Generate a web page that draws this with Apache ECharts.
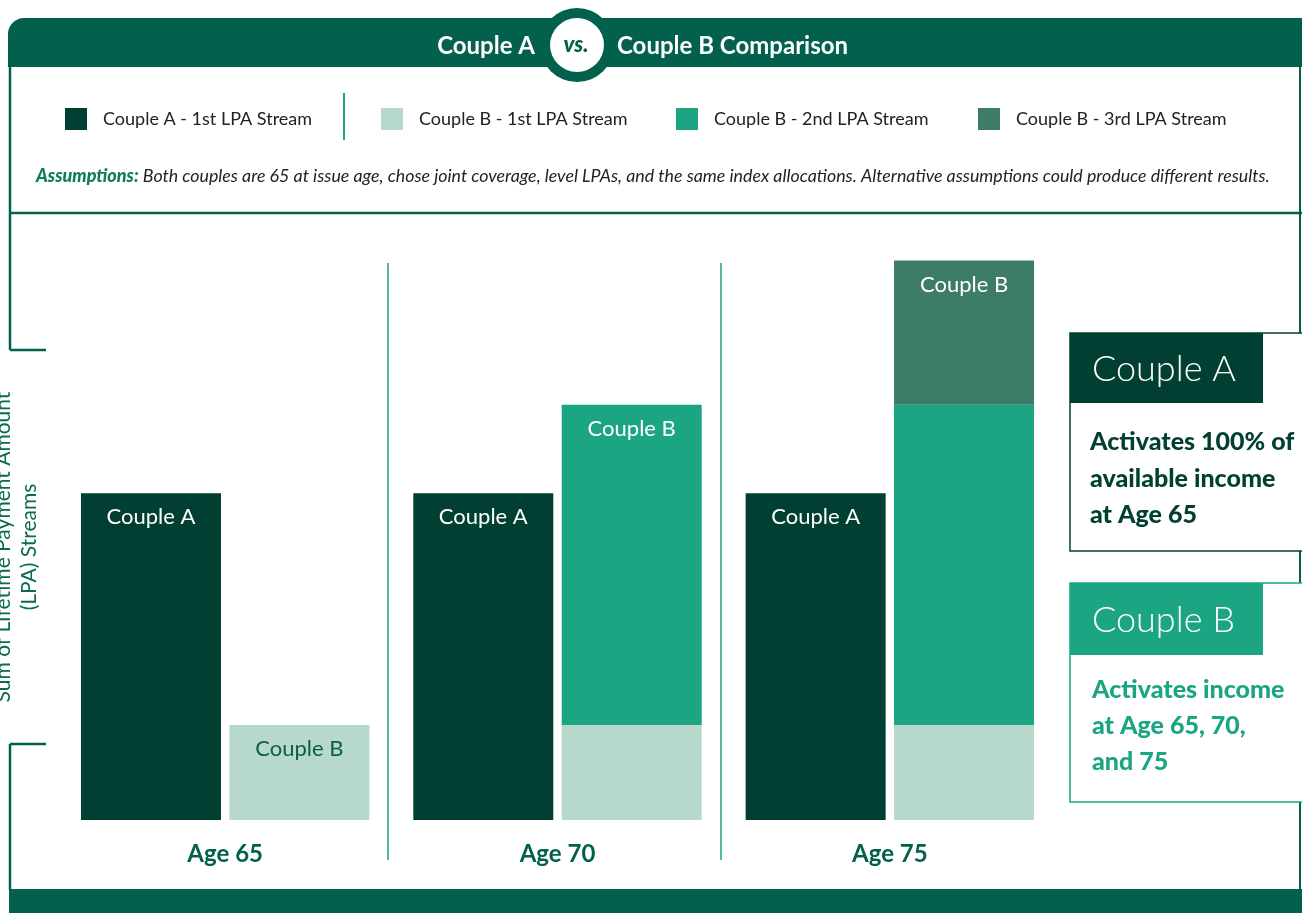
<!DOCTYPE html>
<html>
<head>
<meta charset="utf-8">
<script src="https://cdn.jsdelivr.net/npm/echarts@6/dist/echarts.min.js"></script>
<style>
  html, body { margin: 0; padding: 0; background: #fff; }
  #chart { width: 1302px; height: 913px; }
</style>
</head>
<body>
<div id="chart"></div>
<script>
// data
const ages = ['Age 65', 'Age 70', 'Age 75'];
const coupleA1st = [3.44, 3.44, 3.44];
const coupleB1st = [1, 1, 1];
const coupleB2nd = [null, 3.37, 3.37];
const coupleB3rd = [null, null, 1.52];
const seriesNames = ['Couple A - 1st LPA Stream', 'Couple B - 1st LPA Stream', 'Couple B - 2nd LPA Stream', 'Couple B - 3rd LPA Stream'];
// which bars carry a "Couple X" label
const labelA = [true, true, true];
const labelB1 = [true, false, false];
const labelB2 = [false, true, false];
const labelB3 = [false, false, true];

const DARK = '#003f31';
const HEAD = '#02604c';
const TEAL = '#1ba583';
const LIGHT = '#b7d9cb';
const MID = '#3e7c6a';
const FONT = 'Lato, "Open Sans", sans-serif';

const chart = echarts.init(document.getElementById('chart'));

function withLabels(values, flags, text, color) {
  return values.map((v, i) => ({
    value: v,
    label: {
      show: flags[i] && v != null,
      position: 'insideTop',
      distance: 13,
      formatter: text,
      color: color,
      fontSize: 22,
      fontFamily: FONT
    }
  }));
}

function legendAt(name, left) {
  return {
    data: [name],
    left: left,
    top: 108,
    icon: 'rect',
    itemWidth: 22,
    itemHeight: 22,
    padding: 0,
    selectedMode: false,
    textStyle: { fontSize: 18, color: '#222', fontFamily: FONT, padding: [0, 0, 0, 11] }
  };
}

chart.setOption({
  animation: false,
  legend: [
    legendAt(seriesNames[0], 65),
    legendAt(seriesNames[1], 381),
    legendAt(seriesNames[2], 676),
    legendAt(seriesNames[3], 978)
  ],
  grid: { left: 59, right: 246, top: 250, bottom: 93, containLabel: false, outerBoundsMode: 'none' },
  xAxis: {
    type: 'category',
    data: ages,
    axisLine: { show: false },
    axisTick: { show: false },
    axisLabel: { margin: 22, fontSize: 24, fontWeight: 'bold', color: HEAD, fontFamily: FONT }
  },
  yAxis: {
    type: 'value',
    min: 0,
    max: 6,
    axisLabel: { show: false },
    axisLine: { show: false },
    axisTick: { show: false },
    splitLine: { show: false },
    name: 'Sum of Lifetime Payment Amount\n(LPA) Streams',
    nameLocation: 'middle',
    nameRotate: 90,
    nameGap: 17,
    nameTextStyle: { fontSize: 21, color: '#0b6b52', lineHeight: 26, fontFamily: FONT, padding: [0, 24, 0, 0] }
  },
  series: [
    {
      name: seriesNames[0], type: 'bar', stack: 'a', barWidth: 140, barGap: '6%',
      itemStyle: { color: DARK },
      data: withLabels(coupleA1st, labelA, 'Couple A', '#fff')
    },
    {
      name: seriesNames[1], type: 'bar', stack: 'b', barWidth: 140,
      itemStyle: { color: LIGHT },
      data: withLabels(coupleB1st, labelB1, 'Couple B', '#0b5e4a')
    },
    {
      name: seriesNames[2], type: 'bar', stack: 'b', barWidth: 140,
      itemStyle: { color: TEAL },
      data: withLabels(coupleB2nd, labelB2, 'Couple B', '#fff')
    },
    {
      name: seriesNames[3], type: 'bar', stack: 'b', barWidth: 140,
      itemStyle: { color: MID },
      data: withLabels(coupleB3rd, labelB3, 'Couple B', '#fff')
    }
  ]
});

// separators between the age groups, placed from the category scale
const seps = [];
for (let i = 0; i < ages.length - 1; i++) {
  const x0 = chart.convertToPixel({ xAxisIndex: 0 }, ages[i]);
  const x1 = chart.convertToPixel({ xAxisIndex: 0 }, ages[i + 1]);
  const x = Math.round((x0 + x1) / 2) - 3;
  seps.push({ type: 'line', shape: { x1: x, y1: 263, x2: x, y2: 860 }, style: { stroke: TEAL, lineWidth: 1.5 } });
}

const frame = { stroke: HEAD, lineWidth: 2.5 };

chart.setOption({
  graphic: [
    // header band
    { type: 'rect', shape: { x: 8, y: 18, width: 1300, height: 49, r: [16, 0, 0, 0] }, style: { fill: HEAD } },
    { type: 'circle', shape: { cx: 577, cy: 45, r: 37 }, style: { fill: HEAD } },
    { type: 'circle', shape: { cx: 577, cy: 45, r: 27 }, style: { fill: '#fff' } },
    { type: 'text', x: 576, y: 45, style: { text: 'vs.', fill: HEAD, font: 'italic 900 22px ' + FONT, align: 'center', verticalAlign: 'middle' } },
    { type: 'text', x: 535, y: 46, style: { text: 'Couple A', fill: '#fff', font: 'bold 24px ' + FONT, align: 'right', verticalAlign: 'middle' } },
    { type: 'text', x: 617, y: 46, style: { text: 'Couple B Comparison', fill: '#fff', font: 'bold 24px ' + FONT, align: 'left', verticalAlign: 'middle' } },
    // frame
    { type: 'line', shape: { x1: 10, y1: 50, x2: 10, y2: 350 }, style: frame },
    { type: 'line', shape: { x1: 10, y1: 350, x2: 46, y2: 350 }, style: frame },
    { type: 'line', shape: { x1: 10, y1: 744, x2: 46, y2: 744 }, style: frame },
    { type: 'line', shape: { x1: 10, y1: 744, x2: 10, y2: 890 }, style: frame },
    { type: 'line', shape: { x1: 1300, y1: 60, x2: 1300, y2: 890 }, style: { stroke: HEAD, lineWidth: 2 } },
    { type: 'line', shape: { x1: 10, y1: 213, x2: 1302, y2: 213 }, style: frame },
    { type: 'line', shape: { x1: 344, y1: 93, x2: 344, y2: 140 }, style: { stroke: TEAL, lineWidth: 2 } },
    // assumptions
    {
      type: 'text', x: 36, y: 176,
      style: {
        text: '{b|Assumptions:} Both couples are 65 at issue age, chose joint coverage, level LPAs, and the same index allocations. Alternative assumptions could produce different results.',
        verticalAlign: 'middle',
        font: 'italic 17.8px ' + FONT,
        fill: '#222',
        rich: { b: { font: 'italic 900 18px ' + FONT, fill: '#0e7d5f' } }
      }
    },
    // bottom band
    { type: 'rect', shape: { x: 9, y: 889, width: 1293, height: 24 }, style: { fill: HEAD } },
    // Couple A note
    { type: 'rect', shape: { x: 1070, y: 333, width: 240, height: 218 }, style: { fill: '#fff', stroke: DARK, lineWidth: 1.5 } },
    { type: 'rect', shape: { x: 1070, y: 333, width: 193, height: 70 }, style: { fill: DARK } },
    { type: 'text', x: 1092, y: 369, style: { text: 'Couple A', fill: '#fff', font: '300 36px ' + FONT, verticalAlign: 'middle' } },
    { type: 'text', x: 1090, y: 424, style: { text: 'Activates 100% of\navailable income\nat Age 65', fill: DARK, font: '900 25px ' + FONT, lineHeight: 36.5, verticalAlign: 'top' } },
    // Couple B note
    { type: 'rect', shape: { x: 1070, y: 583, width: 240, height: 219 }, style: { fill: '#fff', stroke: TEAL, lineWidth: 1.5 } },
    { type: 'rect', shape: { x: 1070, y: 583, width: 193, height: 72 }, style: { fill: TEAL } },
    { type: 'text', x: 1092, y: 620, style: { text: 'Couple B', fill: '#fff', font: '300 36px ' + FONT, verticalAlign: 'middle' } },
    { type: 'text', x: 1092, y: 672, style: { text: 'Activates income\nat Age 65, 70,\nand 75', fill: TEAL, font: '900 25px ' + FONT, lineHeight: 36, verticalAlign: 'top' } }
  ].concat(seps)
});
</script>
</body>
</html>
